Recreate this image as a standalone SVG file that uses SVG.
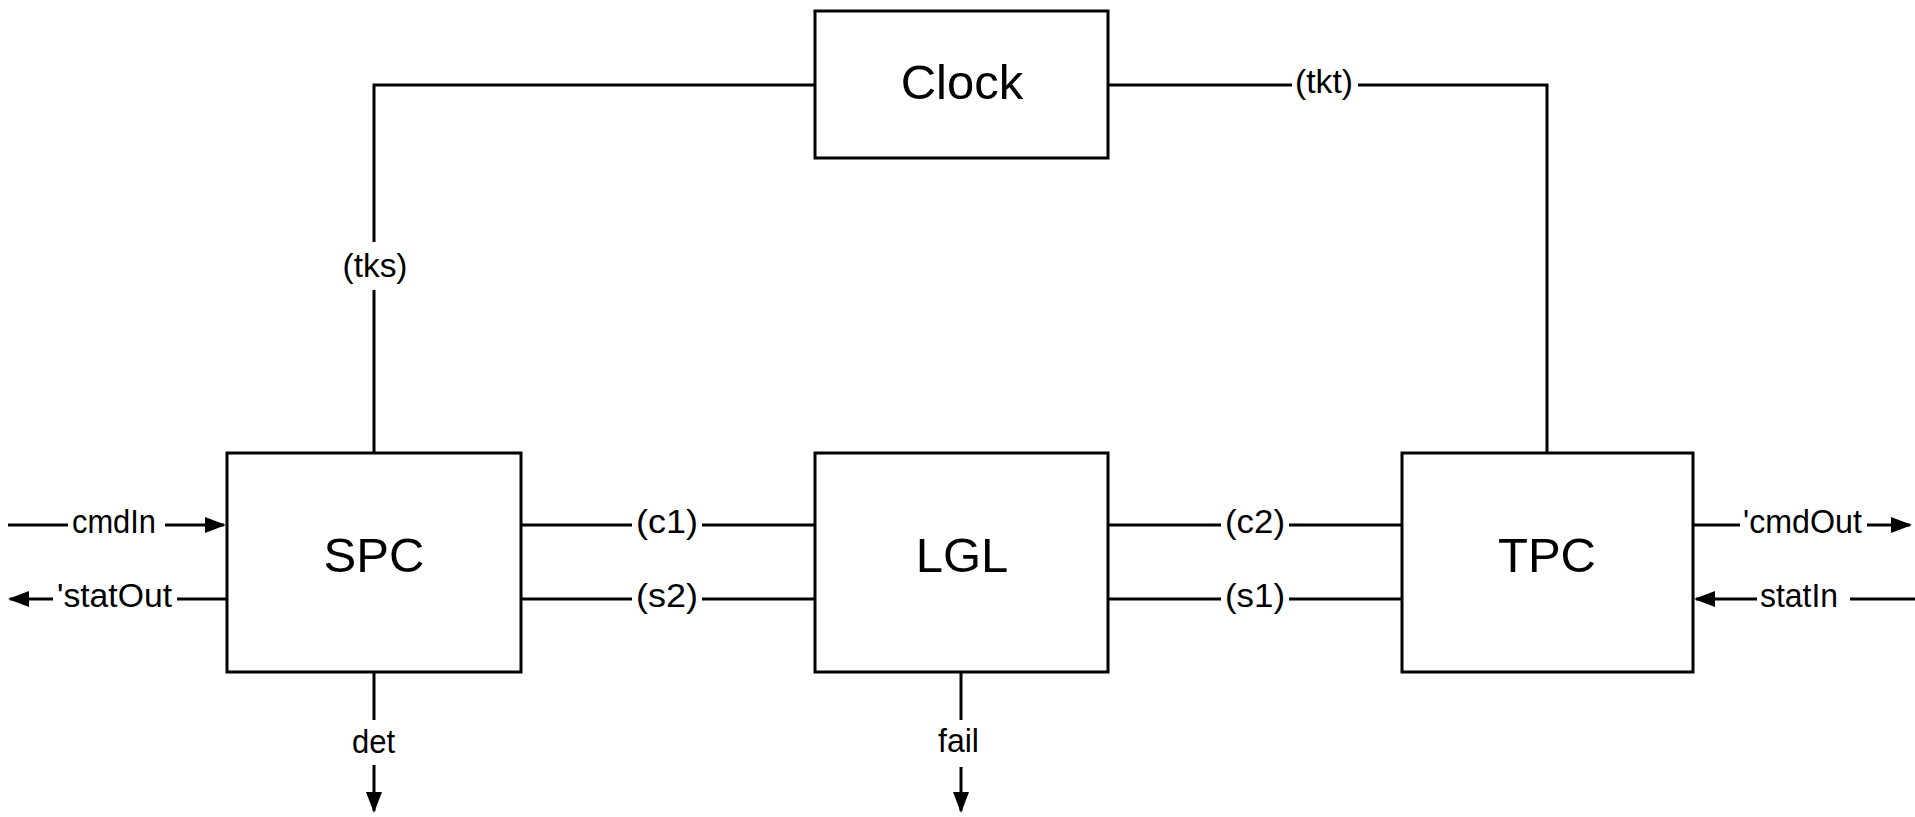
<svg xmlns="http://www.w3.org/2000/svg" width="1915" height="817" viewBox="0 0 1915 817">
<style>
.box{fill:#fff;stroke:#000;stroke-width:3}
.ln{fill:none;stroke:#000;stroke-width:3}
.big{font-family:"Liberation Sans",Arial,sans-serif;font-size:49px;fill:#000;text-anchor:middle}
.lbl{font-family:"Liberation Sans",Arial,sans-serif;font-size:33px;fill:#000;text-anchor:middle}
</style>
<defs>
<marker id="ah" markerUnits="userSpaceOnUse" markerWidth="22" markerHeight="20" viewBox="0 0 22 20" refX="19" refY="10" orient="auto">
<path d="M0,2 L21,10 L0,18 z" fill="#000"/>
</marker>
</defs>
<rect width="1915" height="817" fill="#fff"/>
<g id="connectors">
<path class="ln" d="M815,85 H374 V242 M374,290 V453"/>
<path class="ln" d="M1108,85 H1292 M1358,85 H1547 V453"/>
<path class="ln" d="M521,525 H632 M702,525 H815"/>
<path class="ln" d="M521,599 H632 M702,599 H815"/>
<path class="ln" d="M1108,525 H1221 M1289,525 H1402"/>
<path class="ln" d="M1108,599 H1221 M1289,599 H1402"/>
<path class="ln" d="M8,525 H68"/>
<path class="ln" d="M165,525 H224" marker-end="url(#ah)"/>
<path class="ln" d="M227,599 H177"/>
<path class="ln" d="M53,599 H10" marker-end="url(#ah)"/>
<path class="ln" d="M1693,525 H1740"/>
<path class="ln" d="M1867,525 H1910" marker-end="url(#ah)"/>
<path class="ln" d="M1915,599 H1850"/>
<path class="ln" d="M1757,599 H1696" marker-end="url(#ah)"/>
<path class="ln" d="M374,672 V720"/>
<path class="ln" d="M374,765 V811" marker-end="url(#ah)"/>
<path class="ln" d="M961,672 V720"/>
<path class="ln" d="M961,767 V811" marker-end="url(#ah)"/>
<text class="lbl" x="375" y="277" textLength="65" lengthAdjust="spacingAndGlyphs">(tks)</text>
<text class="lbl" x="1324" y="93" textLength="58" lengthAdjust="spacingAndGlyphs">(tkt)</text>
<text class="lbl" x="667" y="533" textLength="62" lengthAdjust="spacingAndGlyphs">(c1)</text>
<text class="lbl" x="667" y="607" textLength="62" lengthAdjust="spacingAndGlyphs">(s2)</text>
<text class="lbl" x="1255" y="533" textLength="60" lengthAdjust="spacingAndGlyphs">(c2)</text>
<text class="lbl" x="1255" y="607" textLength="60" lengthAdjust="spacingAndGlyphs">(s1)</text>
<text class="lbl" x="114" y="533" textLength="84" lengthAdjust="spacingAndGlyphs">cmdIn</text>
<text class="lbl" x="114.5" y="607" textLength="115" lengthAdjust="spacingAndGlyphs">'statOut</text>
<text class="lbl" x="1802.5" y="533" textLength="119" lengthAdjust="spacingAndGlyphs">'cmdOut</text>
<text class="lbl" x="1799" y="607" textLength="78" lengthAdjust="spacingAndGlyphs">statIn</text>
<text class="lbl" x="373.5" y="753" textLength="43" lengthAdjust="spacingAndGlyphs">det</text>
<text class="lbl" x="958.5" y="752" textLength="41" lengthAdjust="spacingAndGlyphs">fail</text>
</g>
<g id="clock">
<rect class="box" x="815" y="11" width="293" height="147"/>
<text class="big" x="962" y="99">Clock</text>
</g>
<g id="spc">
<rect class="box" x="227" y="453" width="294" height="219"/>
<text class="big" x="374" y="572">SPC</text>
</g>
<g id="lgl">
<rect class="box" x="815" y="453" width="293" height="219"/>
<text class="big" x="962" y="572">LGL</text>
</g>
<g id="tpc">
<rect class="box" x="1402" y="453" width="291" height="219"/>
<text class="big" x="1547" y="572">TPC</text>
</g>
</svg>
